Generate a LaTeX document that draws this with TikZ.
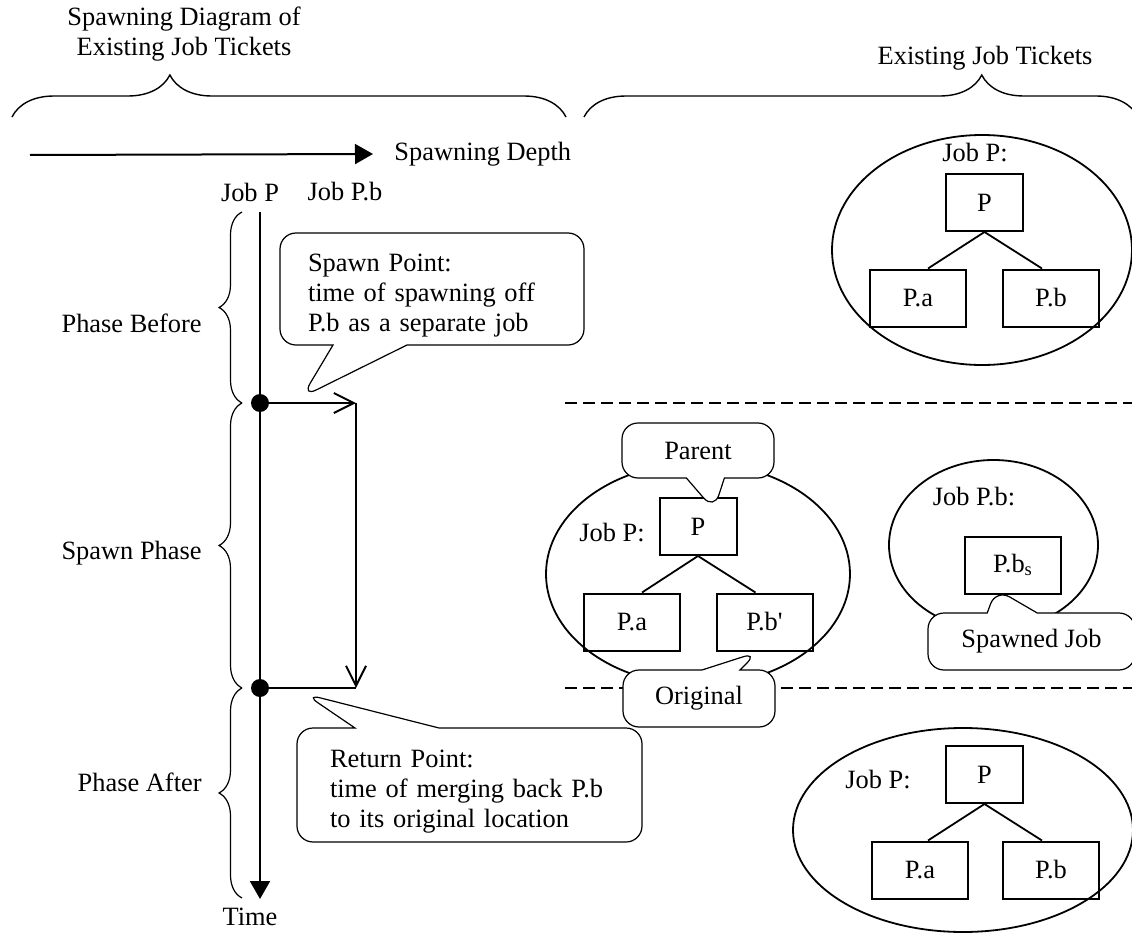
\documentclass[tikz,border=0pt]{standalone}
\usepackage{fontspec}
\setmainfont{Liberation Serif}
\usetikzlibrary{arrows.meta,decorations.pathreplacing,shapes.geometric,shapes.callouts}

\begin{document}
\begin{tikzpicture}[x=0.5pt,y=-0.5pt,
        font=\fontsize{13.2pt}{15pt}\selectfont,
        every node/.style={inner sep=0pt},
        ring/.style={draw, ellipse, line width=0.9pt},
        jobbox/.style={draw, line width=1pt, minimum width=48pt, minimum height=28.5pt},
        rootbox/.style={jobbox, minimum width=38.5pt},
        tie/.style={line width=0.9pt},
        bubble/.style={draw, fill=white, line width=0.6pt, rectangle callout, rounded corners=8pt},
        phasebrace/.style={decorate, decoration={brace, amplitude=11.5pt}, line width=0.6pt},
        topbrace/.style={decorate, decoration={brace, amplitude=21pt, aspect=#1}, line width=0.7pt},
        axis/.style={line width=1pt, -{Triangle[length=9pt, width=10pt]}},
        move/.style={line width=1pt, -{Straight Barb[length=10pt, width=10pt]}},
        dot/.style={circle, fill=black, minimum size=9pt},
        sepline/.style={dash pattern=on 6pt off 3pt, line width=0.9pt}]

        \useasboundingbox (0,0) rectangle (1132,937);

        \node[align=center] (diagtitle) at (184,34) {Spawning Diagram of\\Existing Job Tickets};
        \node (tickettitle) at (985,58) {Existing Job Tickets};
        \draw[topbrace=0.285] (12,117) -- (566,117);
        \draw[topbrace=0.718] (584,117) -- (1138,117);

        \coordinate (depthstart) at (30,155);
        \node[anchor=west] (depth) at (394,154) {Spawning Depth};
        \draw[axis] (depthstart) -- ([xshift=-10.5pt]depth.west);

        \node (jobPlabel) at (250,192) {Job P};
        \node (jobPblabel) at (345,192) {Job P.b};

        \coordinate (ttop) at (260,212);
        \coordinate (tbot) at (260,899);
        \draw[axis] (ttop) -- (tbot);
        \node[dot] (spawnpt) at (260,403) {};
        \node[dot] (returnpt) at (260,688) {};
        \node (timelabel) at (250,917) {Time};

        \coordinate (outcorner) at (356,403);
        \coordinate (incorner) at (356,688);
        \draw[move] (spawnpt.center) -- (outcorner);
        \draw[move] (outcorner) -- (incorner);
        \draw[line width=1pt] (returnpt.center) -- (incorner);

        \draw[phasebrace] (242,403) -- (242,212);
        \draw[phasebrace] (242,688) -- (242,403);
        \draw[phasebrace] (242,898) -- (242,688);
        \node[anchor=east] (before) at (202,323) {Phase Before};
        \node[anchor=east] (during) at (202,553) {Spawn Phase};
        \node[anchor=east] (after) at (202,782) {Phase After};

        \node[ring, minimum width=150pt, minimum height=115pt] (topring) at (982,250) {};
        \node (topjob) at (975,153) {Job P:};
        \node[rootbox] (topP) at (984.5,202.5) {P};
        \node[jobbox] (topPa) at (918,298) {P.a};
        \node[jobbox] (topPb) at (1051,298) {P.b};
        \draw[tie] (topP.south) -- ([xshift=5pt]topPa.north);
        \draw[tie] (topP.south) -- ([xshift=-4.5pt]topPb.north);

        \draw[sepline] (565,403) -- (1132,403);
        \draw[sepline] (565,688) -- (1132,688);

        \node[ring, minimum width=152pt, minimum height=111pt] (midring) at (698,574) {};
        \node (midjob) at (612,533) {Job P:};
        \node[rootbox] (midP) at (698,526.5) {P};
        \node[jobbox] (midPa) at (632,622) {P.a};
        \node[jobbox] (midPb) at (764.5,622) {P.b\textquotesingle};
        \draw[tie] (midP.south) -- ([xshift=5pt]midPa.north);
        \draw[tie] (midP.south) -- ([xshift=-4.5pt]midPb.north);

        \node[ring, minimum width=104.5pt, minimum height=85pt] (spawnring) at (993.5,545) {};
        \node (spawnjob) at (974,497) {Job P.b:};
        \node[jobbox] (spawnPb) at (1013,565) {P.b\textsubscript{s}};

        \node[ring, minimum width=170pt, minimum height=102pt] (lowring) at (963,830) {};
        \node (lowjob) at (878,780) {Job P:};
        \node[rootbox] (lowP) at (984.5,774.5) {P};
        \node[jobbox] (lowPa) at (920,870) {P.a};
        \node[jobbox] (lowPb) at (1051,870) {P.b};
        \draw[tie] (lowP.south) -- ([xshift=4pt]lowPa.north);
        \draw[tie] (lowP.south) -- ([xshift=-4.5pt]lowPb.north);

        \node[bubble, callout absolute pointer={(302,397)}, callout pointer width=37pt, text width=124pt, inner xsep=14pt, minimum height=56pt, align=left] (spawnnote) at (432,289) {\rule{0pt}{15pt}Spawn Point:\\time of spawning off\\P.b as a separate job};
        \node[bubble, callout absolute pointer={(305,694)}, callout pointer width=42pt, text width=139.5pt, inner xsep=16.5pt, minimum height=57pt, align=left] (returnnote) at (469.5,785) {\rule{0pt}{15pt}Return Point:\\time of merging back P.b\\to its original location};
        \node[bubble, callout absolute pointer={(714,510)}, callout pointer width=19pt, minimum width=76pt, minimum height=27.5pt] (parentnote) at (698,450.5) {Parent};
        \node[bubble, callout absolute pointer={(758,652)}, callout pointer width=19pt, minimum width=76pt, minimum height=28.5pt] (originalnote) at (699,698.5) {Original};
        \node[bubble, callout absolute pointer={(996,589)}, callout pointer width=25pt, minimum width=103.5pt, minimum height=28.5pt] (spawnednote) at (1031.5,641.5) {Spawned Job};

    \end{tikzpicture}
\end{document}
